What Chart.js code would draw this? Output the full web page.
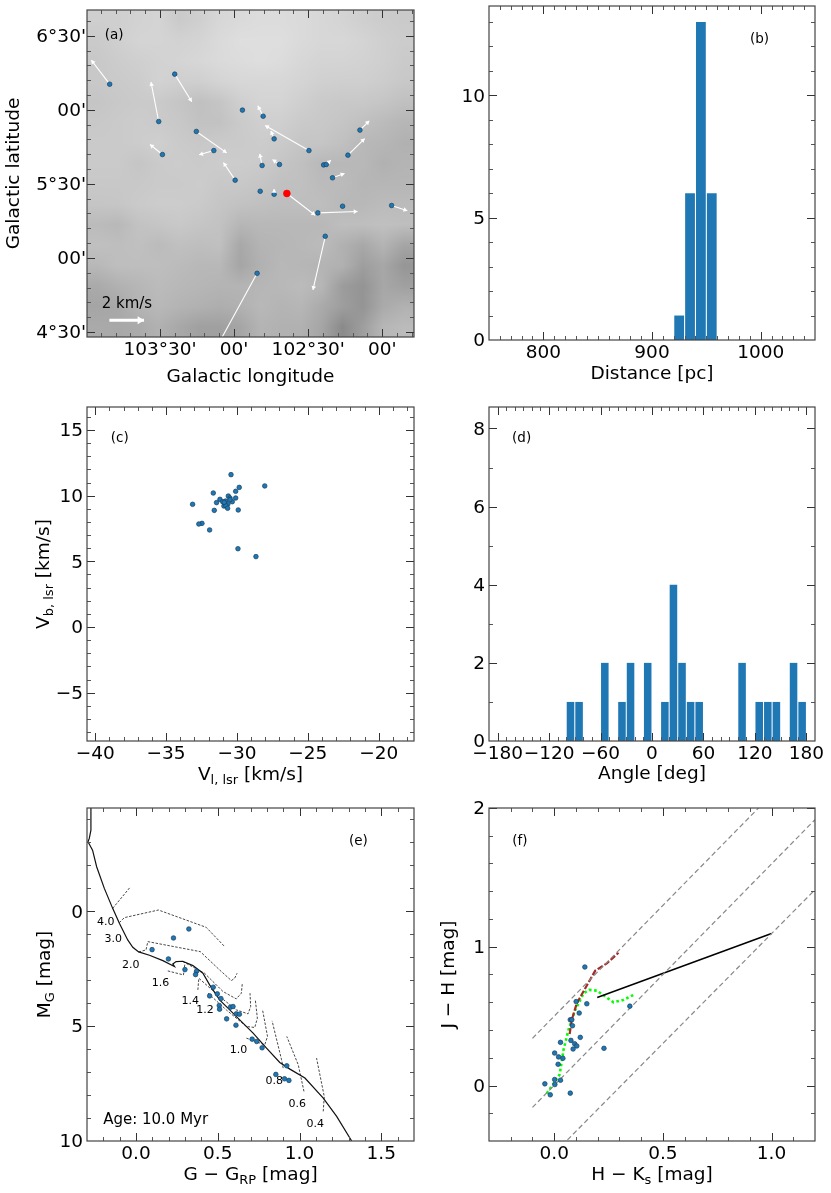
<!DOCTYPE html>
<html>
<head>
<meta charset="utf-8">
<script src="https://cdn.jsdelivr.net/npm/chart.js@4"></script>
<style>
  html, body { margin: 0; padding: 0; background: #fff; }
  #page { position: relative; width: 831px; height: 1193px; overflow: hidden; }
  canvas { position: absolute; }
</style>
</head>
<body>
<div id="page"></div>
<script>
// ─── DATA ─────────────────────────────────────────────────────────────────────

// (a) proper motion map, null tip = no visible arrow
const starLon = [103.840, 103.509, 103.401, 103.255, 103.484, 103.137, 102.993, 102.944, 102.804, 102.730, 102.495, 102.811, 102.694, 102.396, 102.378, 102.336, 102.232, 102.151, 102.824, 102.730, 102.435, 102.268, 101.937, 102.385, 102.845];
const starLat = [6.173, 5.921, 6.241, 5.854, 5.698, 5.725, 5.525, 5.998, 5.957, 5.804, 5.725, 5.624, 5.631, 5.628, 5.631, 5.541, 5.694, 5.863, 5.450, 5.430, 5.304, 5.349, 5.354, 5.146, 4.896];
const tipLon = [103.964, 103.561, 103.286, 103.050, 103.568, 103.236, 103.072, null, 102.840, 102.752, 102.791, 102.827, 102.741, null, 102.347, 102.255, 102.119, 102.088, null, 102.730, 102.167, null, 101.831, 102.468, 103.117];
const tipLat = [6.336, 6.187, 6.054, 5.709, 5.766, 5.696, 5.644, null, 6.027, 5.858, 5.894, 5.703, 5.664, null, 5.660, 5.570, 5.806, 5.926, null, 5.466, 5.313, null, 5.318, 4.784, 4.399];
const centerStar = [102.644, 5.435];
const centerTip = [102.453, 5.288];
const scaleArrow = [[103.842, 4.579], [103.608, 4.579]];
const lonTicks = [103.5, 103, 102.5, 102];
const lonLabels = ["103°30'", "00'", "102°30'", "00'"];
const latTicks = [4.5, 5, 5.5, 6, 6.5];
const latLabels = ["4°30'", "00'", "5°30'", "00'", "6°30'"];
// coarse grey levels of the background map, top row first
const cloudGray = [
  [207, 207, 210, 212, 202, 207, 215, 218, 220, 220, 218, 215, 212, 207, 204, 202],
  [202, 207, 212, 212, 210, 212, 218, 222, 222, 222, 218, 215, 215, 212, 207, 204],
  [200, 204, 207, 210, 212, 215, 218, 220, 222, 220, 215, 212, 212, 210, 207, 202],
  [200, 202, 204, 210, 207, 207, 212, 215, 215, 215, 212, 208, 207, 207, 204, 200],
  [197, 200, 202, 202, 197, 192, 197, 207, 212, 212, 207, 202, 200, 200, 197, 192],
  [200, 202, 204, 202, 200, 194, 194, 202, 207, 207, 202, 200, 197, 192, 187, 182],
  [202, 202, 204, 207, 202, 200, 202, 202, 204, 202, 197, 197, 192, 184, 182, 177],
  [202, 202, 197, 202, 204, 202, 204, 204, 202, 197, 192, 184, 184, 184, 177, 180],
  [200, 200, 200, 202, 202, 204, 200, 200, 197, 192, 192, 187, 187, 182, 182, 182],
  [197, 198, 202, 204, 204, 202, 197, 194, 192, 190, 190, 190, 184, 184, 187, 187],
  [187, 184, 194, 197, 200, 197, 194, 182, 184, 184, 184, 184, 190, 190, 192, 190],
  [192, 190, 192, 187, 192, 190, 192, 168, 180, 182, 184, 187, 177, 168, 180, 165],
  [184, 190, 190, 190, 187, 184, 184, 165, 177, 184, 182, 180, 177, 158, 167, 150],
  [170, 177, 182, 187, 184, 182, 180, 180, 182, 184, 187, 182, 156, 148, 167, 160],
  [165, 168, 180, 184, 180, 177, 174, 177, 184, 180, 182, 170, 158, 148, 170, 177],
  [170, 168, 170, 177, 168, 160, 160, 165, 180, 177, 177, 165, 138, 158, 182, 187]
];

// (b) distance histogram
const distBins = [925, 935, 945, 955];
const distCounts = [1, 6, 13, 6];
const distTicks = [800, 900, 1000];
const countTicksB = [0, 5, 10];

// (c) velocity plane
const velL = [-30.42, -29.84, -28.04, -30.09, -31.67, -30.61, -30.09, -30.49, -31.2, -30.8, -30.33, -31.01, -31.44, -30.64, -30.92, -30.78, -30.66, -31.6, -29.91, -33.13, -32.47, -32.69, -31.93, -29.93, -28.66, -30.49, -30.9];
const velB = [11.6, 10.63, 10.74, 10.33, 10.2, 9.97, 9.82, 9.82, 9.72, 9.59, 9.54, 9.54, 9.47, 9.37, 9.21, 9.24, 9.04, 8.88, 8.91, 9.34, 7.89, 7.84, 7.39, 5.96, 5.36, 9.7, 9.49];
const velLTicks = [-40, -35, -30, -25, -20];
const velBTicks = [-5, 0, 5, 10, 15];

// (d) angle histogram
const angleBins = [-95, -85, -55, -35, -25, -5, 15, 25, 35, 45, 55, 105, 125, 135, 145, 165, 175];
const angleCounts = [1, 1, 2, 1, 2, 2, 1, 4, 2, 1, 1, 2, 1, 1, 1, 2, 1];
const angleTicks = [-180, -120, -60, 0, 60, 120, 180];
const countTicksD = [0, 2, 4, 6, 8];

// (e) colour magnitude diagram
const cmdColor = [0.098, 0.229, 0.323, 0.198, 0.299, 0.370, 0.364, 0.472, 0.497, 0.450, 0.519, 0.509, 0.511, 0.577, 0.593, 0.613, 0.632, 0.554, 0.611, 0.710, 0.738, 0.771, 0.922, 0.855, 0.908, 0.935];
const cmdMag = [1.667, 1.159, 0.768, 2.072, 2.536, 2.609, 2.754, 3.304, 3.594, 3.681, 3.797, 4.101, 4.261, 4.174, 4.145, 4.464, 4.478, 4.681, 4.957, 5.565, 5.667, 5.942, 6.725, 7.101, 7.290, 7.362];
const isochrone = [[-0.276, -4.54], [-0.276, -3.536], [-0.286, -3.174], [-0.294, -3.029], [-0.266, -2.667], [-0.241, -1.942], [-0.194, -1.0], [-0.143, -0.13], [-0.102, 0.522], [-0.051, 1.246], [-0.020, 1.565], [0.016, 1.768], [0.082, 1.913], [0.164, 2.145], [0.235, 2.406], [0.225, 2.29], [0.245, 2.188], [0.286, 2.174], [0.348, 2.362], [0.409, 2.696], [0.450, 3.203], [0.511, 3.855], [0.573, 4.29], [0.634, 4.725], [0.716, 5.304], [0.798, 5.957], [0.879, 6.58], [0.941, 6.87], [1.033, 7.26], [1.145, 8.13], [1.227, 8.93], [1.319, 10.0]];
const track40 = [[-0.143, -0.13], [-0.037, -1.043]];
const track30 = [[-0.102, 0.493], [-0.072, 0.275], [0.137, -0.058], [0.429, 0.696], [0.544, 1.551]];
const track20 = [[0.016, 1.768], [0.061, 1.681], [0.072, 1.319], [0.393, 1.754], [0.511, 2.551], [0.583, 3.014], [0.603, 2.913], [0.618, 2.696]];
const track16 = [[0.194, 2.594], [0.29, 2.768], [0.299, 2.261]];
const track14 = [[0.286, 2.188], [0.419, 2.696], [0.532, 3.493], [0.613, 3.812], [0.644, 3.565], [0.65, 3.13]];
const track12 = [[0.378, 3.42], [0.384, 2.913], [0.511, 3.71], [0.613, 4.29], [0.685, 4.464], [0.701, 4.145], [0.697, 3.565]];
const track10 = [[0.44, 3.565], [0.552, 4.29], [0.675, 5.014], [0.726, 5.058], [0.742, 4.652], [0.73, 3.884]];
const track09 = [[0.675, 5.522], [0.787, 5.812], [0.804, 5.449], [0.773, 4.261]];
const track08 = [[0.9, 6.826], [0.89, 6.464], [0.832, 4.768]];
const track06 = [[1.027, 7.841], [0.992, 6.681], [0.922, 5.449]];
const track04 = [[1.145, 8.71], [1.151, 8.058], [1.104, 6.391]];
const massLabels = ['4.0', '3.0', '2.0', '1.6', '1.4', '1.2', '1.0', '0.8', '0.6', '0.4'];
const massLabelX = [-0.186, -0.139, -0.033, 0.149, 0.331, 0.421, 0.626, 0.845, 0.986, 1.096];
const massLabelY = [0.449, 1.217, 2.333, 3.13, 3.913, 4.29, 6.03, 7.41, 8.38, 9.25];
const cmdXTicks = [0, 0.5, 1, 1.5];
const cmdYTicks = [0, 5, 10];

// (f) colour colour diagram
const ccHK = [0.141, 0.101, 0.15, 0.115, 0.074, 0.081, 0.084, 0.12, 0.077, 0.029, 0.094, 0.104, 0.087, 0.229, 0.002, 0.02, 0.04, 0.018, 0.002, 0.029, -0.043, 0.003, -0.018, 0.074, 0.348];
const ccJH = [0.854, 0.605, 0.589, 0.522, 0.474, 0.474, 0.431, 0.347, 0.325, 0.311, 0.301, 0.285, 0.263, 0.268, 0.234, 0.206, 0.196, 0.153, 0.043, 0.038, 0.012, 0.007, -0.067, -0.055, 0.572];
const reddeningUpper = [[-0.1, 0.34], [0.94, 2.0]];
const reddeningMiddle = [[-0.1, -0.158], [1.2, 1.916]];
const reddeningLower = [[0.061, -0.392], [1.2, 1.411]];
const ttauriLocus = [[0.198, 0.634], [1.0, 1.096]];
const giantLocus = [[0.071, 0.371], [0.081, 0.474], [0.104, 0.593], [0.143, 0.701], [0.189, 0.828], [0.242, 0.880], [0.296, 0.957]];
const dwarfLocus = [[-0.034, -0.057], [0.025, 0.079], [0.043, 0.258], [0.066, 0.402], [0.097, 0.545], [0.135, 0.665], [0.161, 0.689], [0.196, 0.684], [0.235, 0.641], [0.273, 0.6], [0.319, 0.617], [0.365, 0.653]];
const ccXTicks = [0, 0.5, 1];
const ccYTicks = [0, 1, 2];

// ─── HELPERS ──────────────────────────────────────────────────────────────────

const FONT = '"DejaVu Sans"';
const TICK_SIZE = 18.5;
const BLUE = '#1f77b4';

Chart.defaults.font.family = FONT;
Chart.defaults.animation = false;
Chart.defaults.color = '#000';

const zipXY = (xs, ys) => xs.map((x, i) => ({ x, y: ys[i] }));
const pairs = list => list.map(p => ({ x: p[0], y: p[1] }));
const minus = s => String(s).replace('-', '−');

function steps(from, to, step) {
  const out = [];
  for (let i = 0; from + i * step <= to + 1e-9; i++) out.push(from + i * step);
  return out;
}

const dots = (data, color = BLUE, radius = 2.3) => ({
  data, showLine: false, pointRadius: radius, pointBackgroundColor: color,
  pointBorderColor: '#17405f', pointBorderWidth: 0.7, order: 0
});
const curve = (list, color, width, dash) => ({
  data: pairs(list), showLine: true, pointRadius: 0, borderColor: color,
  borderWidth: width, borderDash: dash || [], tension: 0, fill: false, order: 1
});
const arrow = (from, to, width = 1.1, head = 4.5) => ({
  ...curve([from, to], '#fff', width), arrowHead: head
});

// ─── PLUGINS ──────────────────────────────────────────────────────────────────

// grey map behind panel (a): bilinear blow-up of the cloudGray levels
const cloudMap = {
  id: 'cloudMap',
  beforeDatasetsDraw(chart, args, opts) {
    if (!opts.levels) return;
    const rows = opts.levels.length, cols = opts.levels[0].length;
    const a = chart.chartArea, ctx = chart.ctx;
    const w = Math.round(a.right - a.left), h = Math.round(a.bottom - a.top);
    const img = ctx.createImageData(w, h);
    const clamp = (v, hi) => Math.max(0, Math.min(hi, v));
    for (let py = 0; py < h; py++) {
      const fy = clamp((py + 0.5) / h * rows - 0.5, rows - 1);
      const j0 = Math.floor(fy), j1 = Math.min(rows - 1, j0 + 1), ty = fy - j0;
      for (let px = 0; px < w; px++) {
        const fx = clamp((px + 0.5) / w * cols - 0.5, cols - 1);
        const i0 = Math.floor(fx), i1 = Math.min(cols - 1, i0 + 1), tx = fx - i0;
        const top = opts.levels[j0][i0] * (1 - tx) + opts.levels[j0][i1] * tx;
        const bot = opts.levels[j1][i0] * (1 - tx) + opts.levels[j1][i1] * tx;
        const g = top * (1 - ty) + bot * ty;
        const k = (py * w + px) * 4;
        img.data[k] = img.data[k + 1] = img.data[k + 2] = g;
        img.data[k + 3] = 255;
      }
    }
    ctx.putImageData(img, Math.round(a.left), Math.round(a.top));
  }
};

// arrow heads on top of line datasets that carry arrowHead
const arrowHeads = {
  id: 'arrowHeads',
  afterDatasetsDraw(chart) {
    const ctx = chart.ctx, a = chart.chartArea;
    ctx.save();
    ctx.beginPath();
    ctx.rect(a.left, a.top, a.right - a.left, a.bottom - a.top);
    ctx.clip();
    chart.data.datasets.forEach(ds => {
      if (!ds.arrowHead) return;
      const p0 = ds.data[0], p1 = ds.data[1];
      const x0 = chart.scales.x.getPixelForValue(p0.x), y0 = chart.scales.y.getPixelForValue(p0.y);
      const x1 = chart.scales.x.getPixelForValue(p1.x), y1 = chart.scales.y.getPixelForValue(p1.y);
      const ang = Math.atan2(y1 - y0, x1 - x0), h = ds.arrowHead;
      ctx.fillStyle = '#fff';
      ctx.beginPath();
      ctx.moveTo(x1, y1);
      ctx.lineTo(x1 - h * Math.cos(ang - 0.55), y1 - h * Math.sin(ang - 0.55));
      ctx.lineTo(x1 - h * Math.cos(ang + 0.55), y1 - h * Math.sin(ang + 0.55));
      ctx.closePath();
      ctx.fill();
    });
    ctx.restore();
  }
};

// matplotlib style frame: inward ticks on all four sides
const frameTicks = {
  id: 'frameTicks',
  afterDraw(chart, args, opts) {
    const ctx = chart.ctx, a = chart.chartArea;
    const sx = chart.scales.x, sy = chart.scales.y;
    const mark = (vals, len, color) => {
      ctx.strokeStyle = color;
      ctx.lineWidth = 1;
      ctx.beginPath();
      (vals.x || []).forEach(v => {
        const px = Math.round(sx.getPixelForValue(v)) + 0.5;
        if (px < a.left || px > a.right) return;
        ctx.moveTo(px, a.bottom); ctx.lineTo(px, a.bottom - len);
        ctx.moveTo(px, a.top); ctx.lineTo(px, a.top + len);
      });
      (vals.y || []).forEach(v => {
        const py = Math.round(sy.getPixelForValue(v)) + 0.5;
        if (py < a.top || py > a.bottom) return;
        ctx.moveTo(a.left, py); ctx.lineTo(a.left + len, py);
        ctx.moveTo(a.right, py); ctx.lineTo(a.right - len, py);
      });
      ctx.stroke();
    };
    ctx.save();
    mark(opts.minor, 4, '#555');
    mark(opts.major, 8, '#333');
    ctx.strokeStyle = '#444';
    ctx.lineWidth = 1.2;
    ctx.strokeRect(a.left, a.top, a.right - a.left, a.bottom - a.top);
    ctx.restore();
  }
};

// free text: ax/ay are axes fractions, x/y are data values
const notes = {
  id: 'notes',
  afterDraw(chart, args, opts) {
    const ctx = chart.ctx, a = chart.chartArea;
    ctx.save();
    ctx.textAlign = 'center';
    ctx.textBaseline = 'middle';
    ctx.fillStyle = '#000';
    (opts.items || []).forEach(n => {
      const px = n.ax !== undefined ? a.left + n.ax * (a.right - a.left) : chart.scales.x.getPixelForValue(n.x);
      const py = n.ay !== undefined ? a.top + n.ay * (a.bottom - a.top) : chart.scales.y.getPixelForValue(n.y);
      ctx.font = (n.size || 13.5) + 'px ' + FONT;
      ctx.fillText(n.text, px, py);
    });
    ctx.restore();
  }
};

// axis titles with subscripts, which the scale title cannot do
const subTitles = {
  id: 'subTitles',
  afterDraw(chart, args, opts) {
    const ctx = chart.ctx, a = chart.chartArea;
    const draw = (parts, cx, cy, turn) => {
      ctx.save();
      ctx.translate(cx, cy);
      if (turn) ctx.rotate(-Math.PI / 2);
      ctx.fillStyle = '#000';
      ctx.textBaseline = 'alphabetic';
      ctx.textAlign = 'left';
      const fontOf = p => (p.sub ? 13 : TICK_SIZE) + 'px ' + FONT;
      let total = 0;
      parts.forEach(p => { ctx.font = fontOf(p); total += ctx.measureText(p.t).width; });
      let pos = -total / 2;
      parts.forEach(p => {
        ctx.font = fontOf(p);
        ctx.fillText(p.t, pos, p.sub ? 4 : 0);
        pos += ctx.measureText(p.t).width;
      });
      ctx.restore();
    };
    if (opts.x) draw(opts.x, (a.left + a.right) / 2, a.bottom + opts.xGap, false);
    if (opts.y) draw(opts.y, a.left - opts.yGap, (a.top + a.bottom) / 2, true);
  }
};

Chart.register(cloudMap, arrowHeads, frameTicks, notes, subTitles);

// ─── PANELS ───────────────────────────────────────────────────────────────────

function makeAxis(side, cfg, size) {
  const axis = {
    type: 'linear',
    min: cfg.min,
    max: cfg.max,
    reverse: !!cfg.reverse,
    offset: false,
    grid: { display: false, drawTicks: false },
    border: { display: false },
    ticks: {
      autoSkip: false,
      maxRotation: 0,
      padding: cfg.pad === undefined ? 2 : cfg.pad,
      // y labels sit a little high on their tick otherwise
      labelOffset: side === 'y' ? 1.5 : 0,
      color: '#000',
      font: { size: TICK_SIZE, family: FONT },
      callback: cfg.format
    },
    afterBuildTicks: s => { s.ticks = cfg.ticks.map(value => ({ value })); },
    afterFit: s => { if (side === 'x') s.height = size; else s.width = size; }
  };
  if (cfg.title) {
    axis.title = { display: true, text: cfg.title, padding: 0, color: '#000', font: { size: TICK_SIZE, family: FONT } };
  }
  return axis;
}

function panel(box, margins, type, datasets, xCfg, yCfg, extra) {
  const page = document.getElementById('page');
  const cv = document.createElement('canvas');
  // top margin has to clear half a tick label, or the layout shrinks the plot
  const mr = 16, mt = 16;
  cv.width = box.r - box.l + margins.l + mr;
  cv.height = box.b - box.t + mt + margins.b;
  cv.style.left = (box.l - margins.l) + 'px';
  cv.style.top = (box.t - mt) + 'px';
  cv.style.width = cv.width + 'px';
  cv.style.height = cv.height + 'px';
  page.appendChild(cv);
  return new Chart(cv.getContext('2d'), {
    type,
    data: { datasets },
    options: {
      responsive: false,
      devicePixelRatio: 1,
      animation: false,
      layout: { padding: { top: mt, right: mr, left: 0, bottom: 0 } },
      scales: { x: makeAxis('x', xCfg, margins.b), y: makeAxis('y', yCfg, margins.l) },
      plugins: {
        legend: { display: false },
        tooltip: { enabled: false },
        title: { display: false },
        cloudMap: extra.cloud ? { levels: extra.cloud } : {},
        frameTicks: { major: extra.major, minor: extra.minor },
        notes: { items: extra.notes || [] },
        subTitles: extra.titles || {}
      }
    }
  });
}

const fixed = d => v => minus(Number(v).toFixed(d));
const plain = v => minus(v);

// (a)
panel({ l: 87, r: 414, t: 10, b: 337 }, { l: 84, b: 51 }, 'scatter', [
  dots(zipXY(starLon, starLat)),
  { ...dots([{ x: centerStar[0], y: centerStar[1] }], '#ff0000', 3.4), pointBorderColor: '#ff0000' },
  ...starLon.map((lon, i) => tipLon[i] === null ? null : arrow([lon, starLat[i]], [tipLon[i], tipLat[i]])).filter(Boolean),
  arrow(centerStar, centerTip),
  arrow(scaleArrow[0], scaleArrow[1], 3, 7.5)
], {
  min: 101.786, max: 103.993, reverse: true, ticks: lonTicks, title: 'Galactic longitude',
  format: v => lonLabels[lonTicks.indexOf(v)]
}, {
  min: 4.466, max: 6.674, ticks: latTicks, title: 'Galactic latitude', pad: 1,
  format: v => latLabels[latTicks.indexOf(v)]
}, {
  cloud: cloudGray,
  major: { x: lonTicks, y: latTicks },
  minor: { x: steps(101.8, 104, 0.1), y: steps(4.5, 6.6, 0.1) },
  notes: [
    { text: '(a)', ax: 0.083, ay: 0.077 },
    { text: '2 km/s', ax: 0.122, ay: 0.9, size: 15 }
  ]
});

// (b)
panel({ l: 489, r: 815, t: 6, b: 340 }, { l: 50, b: 45 }, 'bar', [{
  data: zipXY(distBins, distCounts), backgroundColor: BLUE,
  barPercentage: 0.9, categoryPercentage: 1
}], {
  min: 750, max: 1050, ticks: distTicks, title: 'Distance [pc]', format: plain
}, {
  min: 0, max: 13.65, ticks: countTicksB, pad: 4, format: plain
}, {
  major: { x: distTicks, y: countTicksB },
  minor: { x: steps(760, 1040, 10), y: steps(0, 13, 1) },
  notes: [{ text: '(b)', ax: 0.83, ay: 0.1 }]
});

// (c)
panel({ l: 87, r: 414, t: 407, b: 741 }, { l: 83, b: 45 }, 'scatter', [
  dots(zipXY(velL, velB))
], {
  min: -40.58, max: -17.51, ticks: velLTicks, format: plain
}, {
  min: -8.68, max: 16.75, ticks: velBTicks, pad: 4, format: plain
}, {
  major: { x: velLTicks, y: velBTicks },
  minor: { x: steps(-40, -18, 1), y: steps(-8, 16, 1) },
  notes: [{ text: '(c)', ax: 0.1, ay: 0.093 }],
  titles: {
    x: [{ t: 'V' }, { t: 'l, lsr', sub: true }, { t: ' [km/s]' }], xGap: 39,
    y: [{ t: 'V' }, { t: 'b, lsr', sub: true }, { t: ' [km/s]' }], yGap: 38
  }
});

// (d)
panel({ l: 489, r: 815, t: 407, b: 741 }, { l: 50, b: 44 }, 'bar', [{
  data: zipXY(angleBins, angleCounts), backgroundColor: BLUE,
  barPercentage: 0.88, categoryPercentage: 1
}], {
  min: -190, max: 190, ticks: angleTicks, title: 'Angle [deg]', format: plain
}, {
  min: 0, max: 8.55, ticks: countTicksD, pad: 4, format: plain
}, {
  major: { x: angleTicks, y: countTicksD },
  minor: { x: steps(-180, 180, 10), y: steps(0, 8, 1) },
  notes: [{ text: '(d)', ax: 0.1, ay: 0.093 }]
});

// (e)
const trackStyle = list => curve(list, '#333', 0.9, [2.5, 1.5]);
panel({ l: 87, r: 414, t: 808, b: 1141 }, { l: 83, b: 44 }, 'scatter', [
  dots(zipXY(cmdColor, cmdMag)),
  curve(isochrone, '#111', 1.2),
  ...[track40, track30, track20, track16, track14, track12, track10, track09, track08, track06, track04].map(trackStyle)
], {
  min: -0.3, max: 1.7, ticks: cmdXTicks, format: fixed(1)
}, {
  min: -4.5, max: 10, reverse: true, ticks: cmdYTicks, pad: 4, format: plain
}, {
  major: { x: cmdXTicks, y: cmdYTicks },
  minor: { x: steps(-0.2, 1.6, 0.1), y: steps(-4, 9, 1) },
  notes: [
    { text: '(e)', ax: 0.83, ay: 0.1 },
    { text: 'Age: 10.0 Myr', ax: 0.21, ay: 0.936, size: 15 },
    ...massLabels.map((text, i) => ({ text, x: massLabelX[i], y: massLabelY[i], size: 11 }))
  ],
  titles: {
    x: [{ t: 'G − G' }, { t: 'RP', sub: true }, { t: ' [mag]' }], xGap: 39,
    y: [{ t: 'M' }, { t: 'G', sub: true }, { t: ' [mag]' }], yGap: 37
  }
});

// (f)
panel({ l: 489, r: 815, t: 808, b: 1141 }, { l: 51, b: 44 }, 'scatter', [
  dots(zipXY(ccHK, ccJH)),
  curve(reddeningUpper, '#888', 1.2, [5, 3]),
  curve(reddeningMiddle, '#888', 1.2, [5, 3]),
  curve(reddeningLower, '#888', 1.2, [5, 3]),
  curve(ttauriLocus, '#000', 1.5),
  curve(giantLocus, '#a52a2a', 2.2, [6, 2]),
  curve(dwarfLocus, '#00ff00', 2.6, [2.6, 2.6])
], {
  min: -0.3, max: 1.2, ticks: ccXTicks, format: fixed(1)
}, {
  min: -0.4, max: 2, ticks: ccYTicks, pad: 4, title: 'J − H [mag]', format: plain
}, {
  major: { x: ccXTicks, y: ccYTicks },
  minor: { x: steps(-0.2, 1.1, 0.1), y: steps(-0.2, 1.8, 0.2) },
  notes: [{ text: '(f)', ax: 0.095, ay: 0.1 }],
  titles: {
    x: [{ t: 'H − K' }, { t: 's', sub: true }, { t: ' [mag]' }], xGap: 39
  }
});
</script>
</body>
</html>
